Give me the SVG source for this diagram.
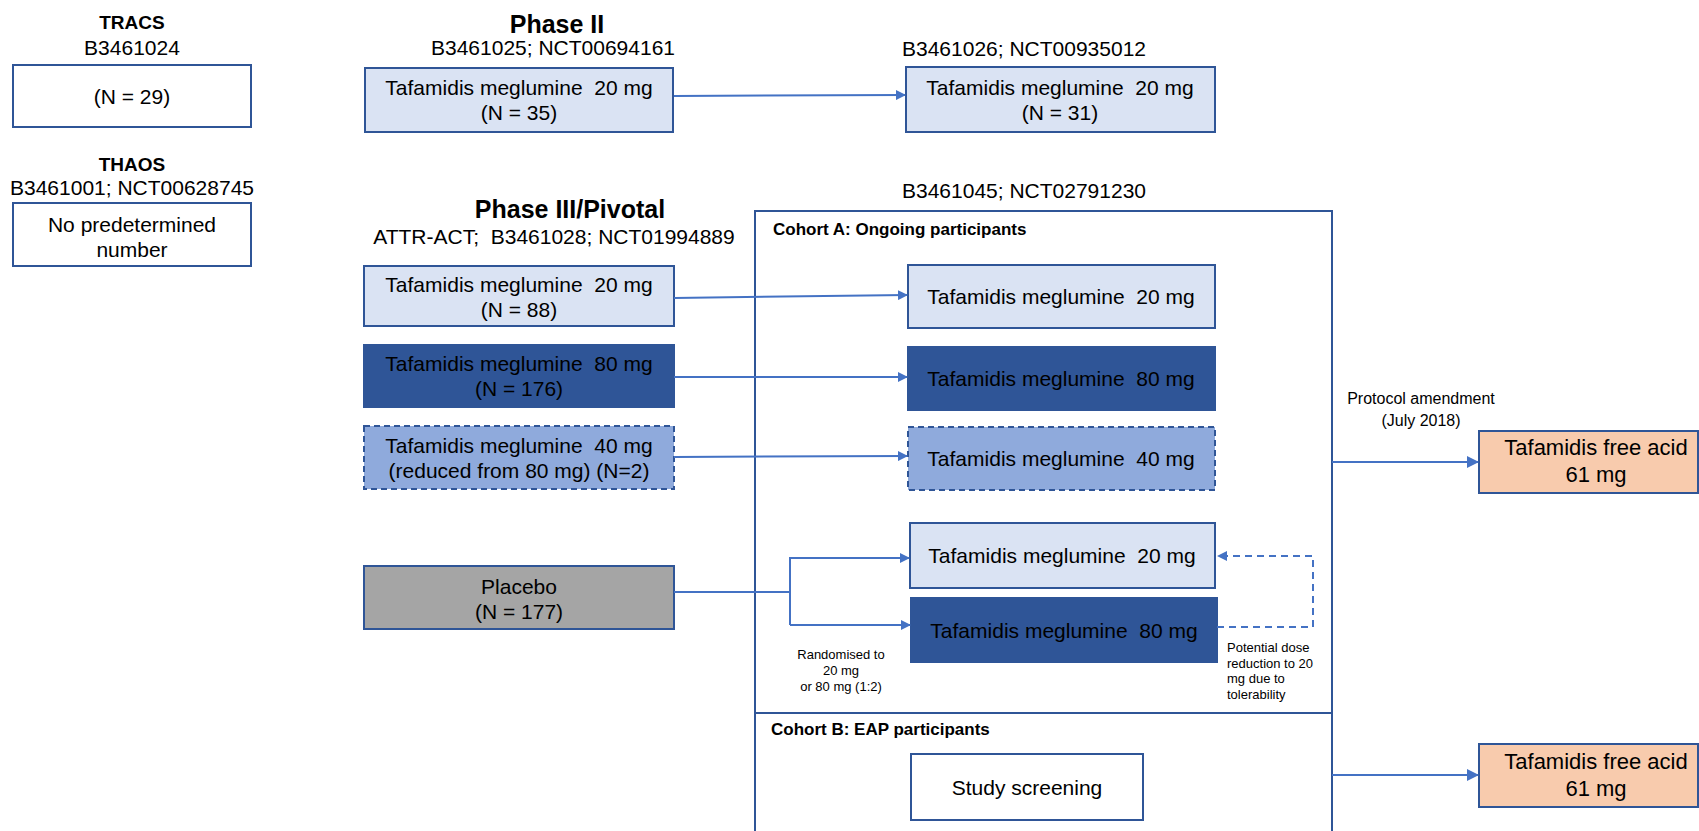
<svg xmlns="http://www.w3.org/2000/svg" width="1699" height="831" viewBox="0 0 1699 831">
<style>
text{font-family:"Liberation Sans",Arial,sans-serif;fill:#000}
.t{font-size:21px;text-anchor:middle}
.h{font-size:19px;font-weight:bold;text-anchor:middle}
.ph{font-size:25px;font-weight:bold;text-anchor:middle}
.c{font-size:17px;font-weight:bold}
.s{font-size:13px}
.box{stroke:#2F5597;stroke-width:2}
.w{fill:#FFFFFF}
.lb{fill:#DAE3F3}
.db{fill:#2F5597}
.mb{fill:#8FAADC;stroke-dasharray:6 4}
.gr{fill:#A5A5A5}
.or{fill:#F8CBAD}
.ln{fill:none;stroke:#4472C4;stroke-width:2}
.dl{fill:none;stroke:#4472C4;stroke-width:2;stroke-dasharray:7 5}
</style>
<defs>
<marker id="ah" markerWidth="10" markerHeight="10" refX="9" refY="5" orient="auto" markerUnits="userSpaceOnUse" viewBox="0 0 10 10">
<path d="M0,0 L10,5 L0,10 z" fill="#4472C4"/>
</marker>
<marker id="ah2" markerWidth="12" markerHeight="12" refX="11" refY="6" orient="auto" markerUnits="userSpaceOnUse" viewBox="0 0 12 12">
<path d="M0,0 L12,6 L0,12 z" fill="#4472C4"/>
</marker>
</defs>

<g id="headings">
<text class="h" x="132" y="29">TRACS</text>
<text class="t" x="132" y="55">B3461024</text>
<text class="h" x="132" y="171">THAOS</text>
<text class="t" x="132" y="195">B3461001; NCT00628745</text>
<text class="ph" x="557" y="33">Phase II</text>
<text class="t" x="553" y="55">B3461025; NCT00694161</text>
<text class="t" x="1024" y="56">B3461026; NCT00935012</text>
<text class="ph" x="570" y="218">Phase III/Pivotal</text>
<text class="t" x="554" y="244" xml:space="preserve">ATTR-ACT;  B3461028; NCT01994889</text>
<text class="t" x="1024" y="198">B3461045; NCT02791230</text>
</g>

<g id="extension-study">
<rect x="755" y="211" width="577" height="640" fill="none" class="box"/>
<line x1="755" y1="713" x2="1332" y2="713" stroke="#2F5597" stroke-width="2"/>
<text class="c" x="773" y="235">Cohort A: Ongoing participants</text>
<text class="c" x="771" y="735">Cohort B: EAP participants</text>
</g>

<g id="tracs">
<rect x="13" y="65" width="238" height="62" class="box w"/>
<text class="t" x="132" y="104">(N = 29)</text>
</g>
<g id="thaos">
<rect x="13" y="203" width="238" height="63" class="box w"/>
<text class="t" x="132" y="232">No predetermined</text>
<text class="t" x="132" y="257">number</text>
</g>

<g id="p2-a">
<rect x="365" y="68" width="308" height="64" class="box lb"/>
<text class="t" x="519" y="95" xml:space="preserve">Tafamidis meglumine  20 mg</text>
<text class="t" x="519" y="120">(N = 35)</text>
</g>
<g id="p2-b">
<rect x="906" y="67" width="309" height="65" class="box lb"/>
<text class="t" x="1060" y="95" xml:space="preserve">Tafamidis meglumine  20 mg</text>
<text class="t" x="1060" y="120">(N = 31)</text>
</g>

<g id="p3-20">
<rect x="364" y="266" width="310" height="60" class="box lb"/>
<text class="t" x="519" y="292" xml:space="preserve">Tafamidis meglumine  20 mg</text>
<text class="t" x="519" y="317">(N = 88)</text>
</g>
<g id="p3-80">
<rect x="364" y="345" width="310" height="62" class="box db"/>
<text class="t" x="519" y="371" xml:space="preserve">Tafamidis meglumine  80 mg</text>
<text class="t" x="519" y="396">(N = 176)</text>
</g>
<g id="p3-40">
<rect x="364" y="426" width="310" height="63" class="box mb"/>
<text class="t" x="519" y="453" xml:space="preserve">Tafamidis meglumine  40 mg</text>
<text class="t" x="519" y="478">(reduced from 80 mg) (N=2)</text>
</g>
<g id="placebo">
<rect x="364" y="566" width="310" height="63" class="box gr"/>
<text class="t" x="519" y="594">Placebo</text>
<text class="t" x="519" y="619">(N = 177)</text>
</g>

<g id="a-20">
<rect x="908" y="265" width="307" height="63" class="box lb"/>
<text class="t" x="1061" y="304" xml:space="preserve">Tafamidis meglumine  20 mg</text>
</g>
<g id="a-80">
<rect x="908" y="347" width="307" height="63" class="box db"/>
<text class="t" x="1061" y="386" xml:space="preserve">Tafamidis meglumine  80 mg</text>
</g>
<g id="a-40">
<rect x="908" y="427" width="307" height="63" class="box mb"/>
<text class="t" x="1061" y="466" xml:space="preserve">Tafamidis meglumine  40 mg</text>
</g>
<g id="a-pl-20">
<rect x="910" y="523" width="305" height="65" class="box lb"/>
<text class="t" x="1062" y="563" xml:space="preserve">Tafamidis meglumine  20 mg</text>
</g>
<g id="a-pl-80">
<rect x="911" y="598" width="306" height="64" class="box db"/>
<text class="t" x="1064" y="638" xml:space="preserve">Tafamidis meglumine  80 mg</text>
</g>
<g id="screening">
<rect x="911" y="754" width="232" height="66" class="box w"/>
<text class="t" x="1027" y="795">Study screening</text>
</g>

<g id="fa-1">
<rect x="1479" y="431" width="219" height="62" class="box or"/>
<text class="t" x="1596" y="455" style="font-size:22px">Tafamidis free acid</text>
<text class="t" x="1596" y="482" style="font-size:22px">61 mg</text>
</g>
<g id="fa-2">
<rect x="1479" y="744" width="219" height="63" class="box or"/>
<text class="t" x="1596" y="769" style="font-size:22px">Tafamidis free acid</text>
<text class="t" x="1596" y="796" style="font-size:22px">61 mg</text>
</g>

<g id="connectors">
<path class="ln" d="M674,96 L905,95" marker-end="url(#ah)"/>
<path class="ln" d="M674,298 L907,295" marker-end="url(#ah)"/>
<path class="ln" d="M674,377 L907,377" marker-end="url(#ah)"/>
<path class="ln" d="M674,457 L907,456" marker-end="url(#ah)"/>
<path class="ln" d="M674,592 L790,592"/>
<path class="ln" d="M790,625 L790,558 L909,558" marker-end="url(#ah)"/>
<path class="ln" d="M790,625 L910,625" marker-end="url(#ah)"/>
<path class="dl" d="M1217,627 L1313,627 L1313,556 L1218,556" marker-end="url(#ah)"/>
<path class="ln" d="M1332,462 L1478,462" marker-end="url(#ah2)"/>
<path class="ln" d="M1332,775 L1478,775" marker-end="url(#ah2)"/>
</g>

<g id="annotations">
<text class="s" x="841" y="659" text-anchor="middle">Randomised to</text>
<text class="s" x="841" y="675" text-anchor="middle">20 mg</text>
<text class="s" x="841" y="691" text-anchor="middle">or 80 mg (1:2)</text>
<text class="s" x="1227" y="652">Potential dose</text>
<text class="s" x="1227" y="668">reduction to 20</text>
<text class="s" x="1227" y="683">mg due to</text>
<text class="s" x="1227" y="699">tolerability</text>
<text x="1421" y="404" text-anchor="middle" style="font-size:16px">Protocol amendment</text>
<text x="1421" y="426" text-anchor="middle" style="font-size:16px">(July 2018)</text>
</g>
</svg>
